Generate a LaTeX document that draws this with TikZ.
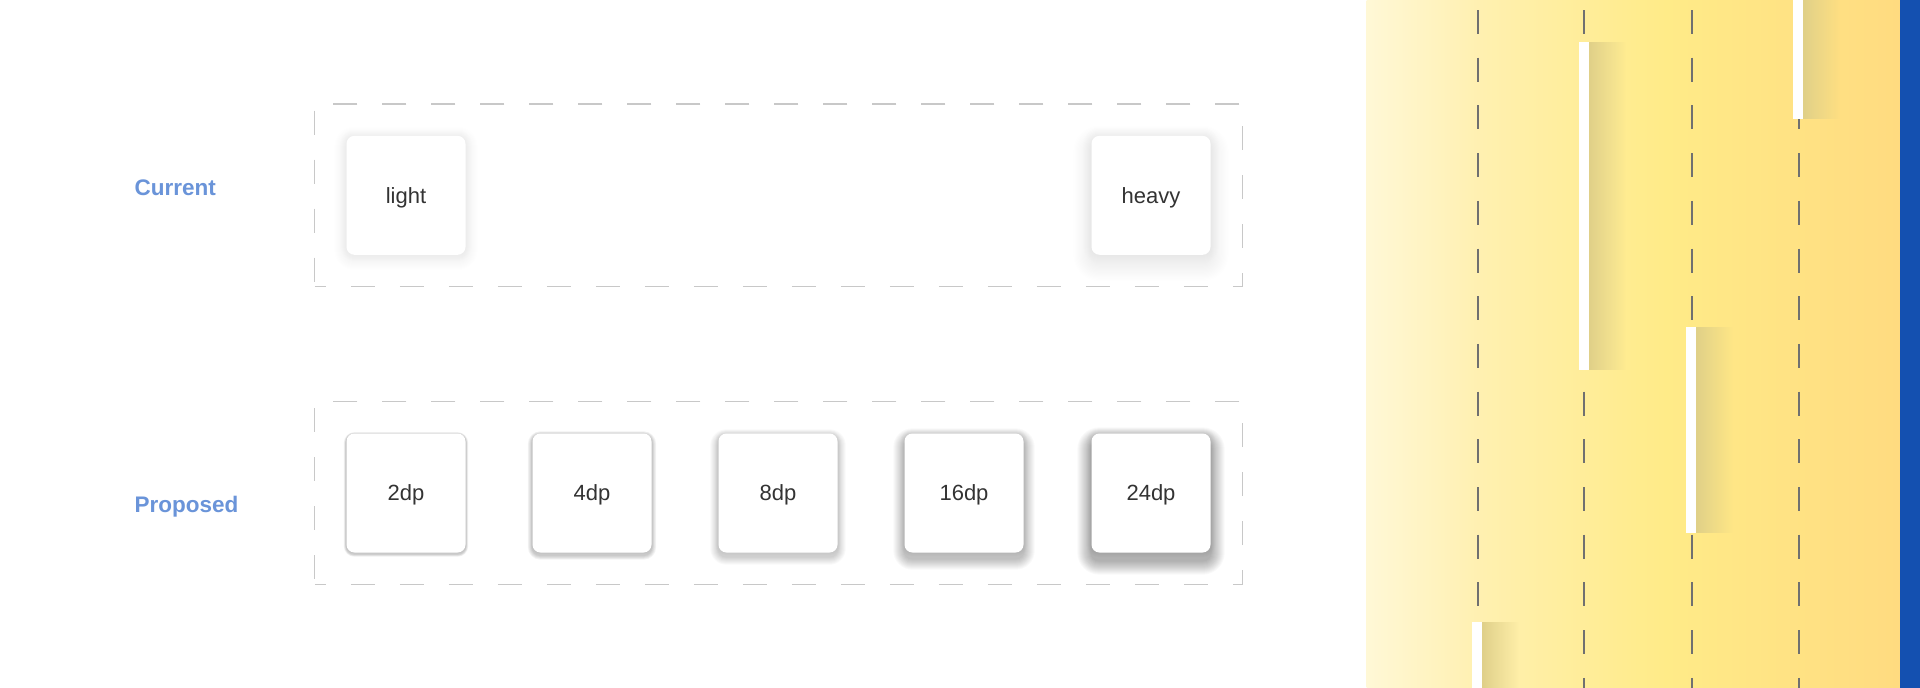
\documentclass[tikz,border=0pt]{standalone}
\usepackage{fontspec}
\setmainfont{Liberation Sans}
\usetikzlibrary{calc,fadings}
\definecolor{lblue}{HTML}{6A94D9}
\definecolor{txt}{HTML}{333333}
\definecolor{dgray}{HTML}{C8C8C8}
\definecolor{vgray}{HTML}{707070}
\definecolor{pA}{HTML}{FFF8D6}
\definecolor{pB}{HTML}{FFF0B0}
\definecolor{pC}{HTML}{FFEB88}
\definecolor{pD}{HTML}{FFDB80}
\definecolor{edge}{HTML}{1450B0}
\definecolor{barsh}{HTML}{E0D088}
\pgfdeclarelayer{background}
\pgfdeclarelayer{shadow}
\pgfsetlayers{background,shadow,main}
\tikzset{
  card/.style={rectangle, fill=white, rounded corners=8pt, minimum width=119pt,
    minimum height=119pt, inner sep=0pt, text=txt, font=\fontsize{22}{26}\selectfont,
    text depth=-3pt},
  rowlabel/.style={anchor=west, text=lblue, font=\bfseries\fontsize{22.5}{26}\selectfont},
  dbox/.style={rectangle, draw=dgray, line width=1.2pt, dash pattern=on 24pt off 25pt,
    dash phase=13pt, inner sep=0pt},
  vdashline/.style={draw=vgray, line width=2pt, dash pattern=on 24pt off 23.7pt},
  whitebar/.style={fill=white},
  barshadow/.style={fill=barsh, path fading=east}
}
\newcommand\cardshadow[5]{% node, dy, blur, opacity per layer, layers
  \foreach \k in {1,...,#5}{
    \pgfmathsetmacro\s{#3*\k/#5}
    \pgfmathsetmacro\rr{8+\s}
    \fill[black, fill opacity=#4, rounded corners=\rr pt]
      ($(#1.south west)+(-\s,#2+\s)$) rectangle ($(#1.north east)+(\s,#2-\s)$);
  }}
\begin{document}
\begin{tikzpicture}[x=1pt,y=-1pt]
\useasboundingbox (0,0) rectangle (1920,688);
\begin{pgfonlayer}{background}
\fill[white] (0,0) rectangle (1920,688);
\end{pgfonlayer}

% left part
\node[rowlabel] (lcur) at (131,188) {Current};
\node[rowlabel] (lpro) at (131,507) {Proposed};
\node[dbox, minimum width=928pt, minimum height=182.5pt] (curbox) at (778.8,195.25) {};
\node[dbox, minimum width=928pt, minimum height=182.5pt] (probox) at (778.8,492.85) {};

\node[card] (light) at (406,195.3) {light};
\node[card] (heavy) at (1151,195.3) {heavy};
\node[card] (p2) at (406,493) {2dp};
\node[card] (p4) at (592,493) {4dp};
\node[card] (p8) at (778,493) {8dp};
\node[card] (p16) at (964,493) {16dp};
\node[card] (p24) at (1151,493) {24dp};

\begin{pgfonlayer}{shadow}
  \cardshadow{light}{0}{6}{0.004}{6}
  \cardshadow{light}{3}{12}{0.004}{12}
  \cardshadow{heavy}{0}{8}{0.004}{8}
  \cardshadow{heavy}{8}{18}{0.005}{15}
  \cardshadow{p2}{0}{1.2}{0.018}{2}
  \cardshadow{p2}{1.5}{2.5}{0.05}{4}
  \cardshadow{p4}{0}{2}{0.012}{3}
  \cardshadow{p4}{2.5}{4.5}{0.045}{5}
  \cardshadow{p8}{0}{3}{0.012}{3}
  \cardshadow{p8}{4}{8}{0.025}{8}
  \cardshadow{p16}{0}{4}{0.012}{4}
  \cardshadow{p16}{6}{11}{0.022}{11}
  \cardshadow{p24}{0}{5}{0.013}{5}
  \cardshadow{p24}{8}{14}{0.024}{14}
\end{pgfonlayer}

% right panel
\fill[left color=pA, right color=pB] (1366.5,0) rectangle (1480.5,688);
\fill[left color=pB, right color=pC] (1480,0) rectangle (1665.5,688);
\fill[left color=pC, right color=pD] (1665,0) rectangle (1900,688);
\fill[edge] (1899.5,0) rectangle (1920,688);

\foreach \xx in {1478,1584,1692,1799}{
  \draw[vdashline] (\xx,10) -- (\xx,688);
}

% white bars with shadows
\foreach \xa/\ya/\yb in {1579/42/370, 1686/327/533, 1793/0/119, 1472/622/688}{
  \fill[barshadow] (\xa+10,\ya) rectangle (\xa+47,\yb);
  \fill[whitebar] (\xa,\ya) rectangle (\xa+10,\yb);
}
\end{tikzpicture}
\end{document}
